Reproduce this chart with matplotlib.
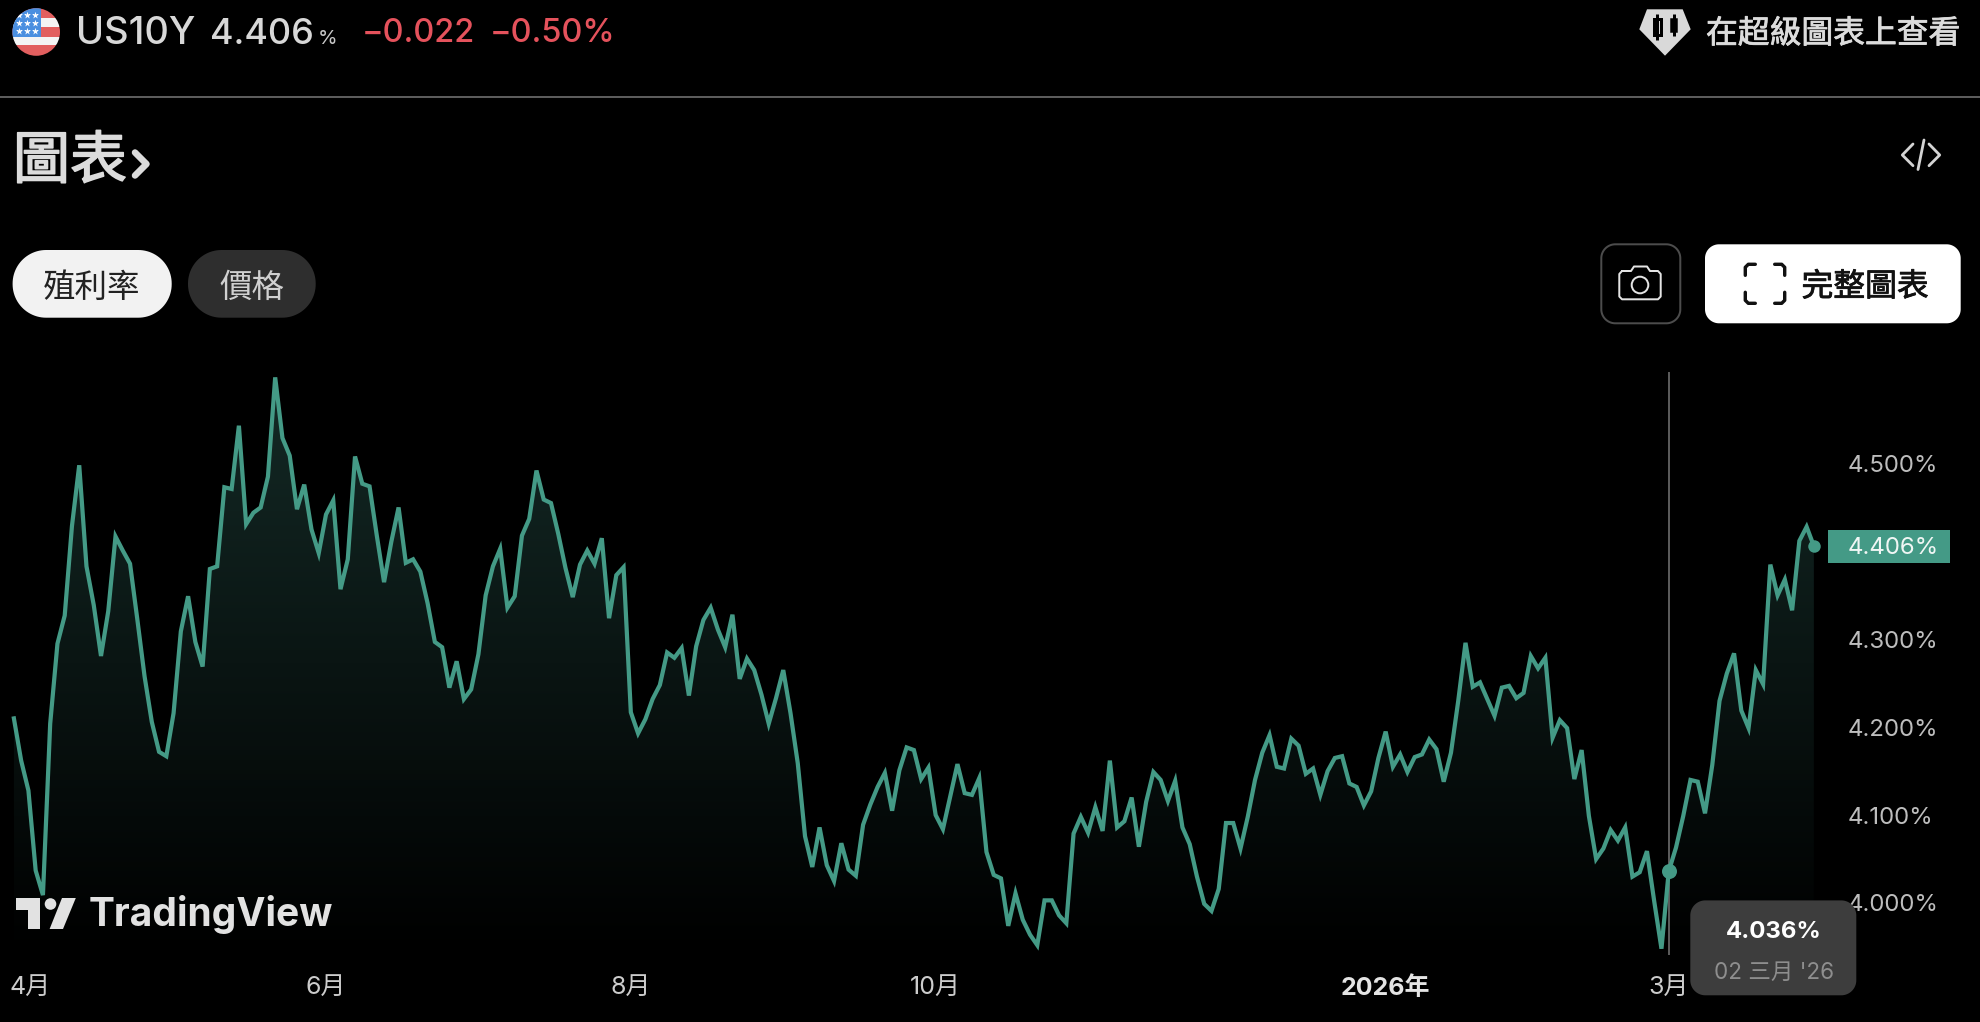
import numpy as np
import matplotlib
matplotlib.use("Agg")
import matplotlib.pyplot as plt
import matplotlib.patheffects as pe
from matplotlib.patches import Circle, Polygon, Rectangle, PathPatch
from matplotlib.path import Path
from matplotlib.colors import LinearSegmentedColormap

CJK = ["Noto Sans CJK TC", "DejaVu Sans"]
MIX = ["Inter", "Noto Sans CJK TC", "DejaVu Sans"]

yield_pct = [
 4.210,4.162,4.128,4.037,4.009,4.204,4.295,4.327,4.429,4.498,
 4.383,4.339,4.281,4.332,4.417,4.401,4.386,4.323,4.258,4.206,
 4.172,4.167,4.216,4.309,4.349,4.297,4.269,4.380,4.383,4.473,
 4.471,4.543,4.431,4.444,4.450,4.485,4.598,4.529,4.509,4.448,
 4.476,4.425,4.398,4.442,4.458,4.357,4.391,4.508,4.477,4.474,
 4.418,4.365,4.411,4.450,4.387,4.391,4.377,4.341,4.297,4.291,
 4.245,4.275,4.232,4.243,4.283,4.350,4.383,4.403,4.336,4.349,
 4.418,4.437,4.492,4.459,4.455,4.420,4.381,4.348,4.385,4.401,
 4.386,4.415,4.324,4.373,4.382,4.217,4.193,4.209,4.232,4.248,
 4.285,4.279,4.290,4.236,4.292,4.322,4.336,4.311,4.291,4.328,
 4.255,4.278,4.265,4.237,4.204,4.233,4.265,4.216,4.159,4.076,
 4.041,4.086,4.043,4.025,4.068,4.038,4.031,4.089,4.112,4.132,
 4.148,4.105,4.151,4.177,4.174,4.141,4.154,4.100,4.084,4.121,
 4.158,4.125,4.123,4.142,4.058,4.032,4.028,3.974,4.011,3.981,
 3.964,3.952,4.003,4.003,3.986,3.977,4.079,4.098,4.080,4.109,
 4.082,4.162,4.086,4.093,4.120,4.064,4.115,4.149,4.140,4.116,
 4.139,4.086,4.067,4.030,3.999,3.991,4.016,4.091,4.091,4.062,
 4.098,4.140,4.171,4.191,4.155,4.153,4.187,4.179,
 4.147,4.153,4.123,4.150,4.165,4.167,4.136,4.132,4.111,4.127,
 4.165,4.195,4.155,4.169,4.149,4.166,4.169,4.186,4.175,4.138,
 4.171,4.230,4.296,4.246,4.251,4.232,4.213,4.245,4.247,4.233,
 4.239,4.281,4.267,4.279,4.188,4.208,4.199,4.141,4.174,4.099,
 4.050,4.062,4.083,4.071,4.086,4.030,4.035,4.059,4.002,3.948,
 4.036,4.063,4.099,4.140,4.138,4.102,4.157,4.230,4.261,4.284,
 4.219,4.199,4.265,4.249,4.385,4.350,4.368,4.333,4.412,4.428,
 4.406,
]
xtick_pos = [2.3, 43, 85, 127, 189, 228]
xtick_labels = ["4月", "6月", "8月", "10月", "2026年", "3月"]
ytick_vals = [4.0, 4.1, 4.2, 4.3, 4.4, 4.5]
ytick_labels = ["4.000%", "4.100%", "4.200%", "4.300%", "", "4.500%"]
cursor_index = 228
cursor_value_label = "4.036%"
cursor_date_label = "02 三月 '26"

W, H = 1980, 1022
LINE = "#449a86"
PT = 0.72

fig = plt.figure(figsize=(W / 100, H / 100), dpi=100, facecolor="black")

def axrect(x0, y0, x1, y1):
    return [x0 / W, 1 - y1 / H, (x1 - x0) / W, (y1 - y0) / H]

X0 = 13.9
DX = 7.258
PER_UNIT = 879.0
Y500 = 463.5
ax = fig.add_axes(axrect(0, 372, 1828, 955), facecolor="black", zorder=1)
xmin, xmax = -X0 / DX, (1828 - X0) / DX
ytop = 4.5 + (Y500 - 372) / PER_UNIT
ybot = 4.5 + (Y500 - 955) / PER_UNIT
x = np.arange(len(yield_pct))
y = np.array(yield_pct)

cmap = LinearSegmentedColormap.from_list("g", ["#142a26", "#000000"])
im = ax.imshow(np.linspace(0, 1, 256).reshape(-1, 1), cmap=cmap, aspect="auto",
               extent=[xmin, xmax, ybot, ytop], origin="upper", zorder=1)
poly = np.column_stack([np.r_[x, x[-1], x[0]], np.r_[y, ybot, ybot]])
clip = PathPatch(Path(np.vstack([poly, poly[0]]), closed=True), transform=ax.transData,
                 fc="none", ec="none")
ax.add_patch(clip)
im.set_clip_path(clip)

ax.plot([cursor_index] * 2, [ybot, ytop], color="#5a5a5a", lw=2 * PT, zorder=2)
ax.plot(x, y, color=LINE, lw=4.2 * PT, solid_joinstyle="miter", zorder=3)
ax.plot([cursor_index], [y[cursor_index]], "o", color=LINE, ms=15 * PT, mew=0, zorder=4)
ax.plot([x[-1]], [y[-1]], "o", color=LINE, ms=12.5 * PT, mew=0, zorder=4)
ax.set_xlim(xmin, xmax)
ax.set_ylim(ybot, ytop)

for s in ax.spines.values():
    s.set_visible(False)
ax.yaxis.tick_right()
ax.set_yticks(ytick_vals)
ax.set_yticklabels(ytick_labels, family=MIX, fontsize=24 * PT, color="#bdbdbd")
ax.tick_params(axis="y", length=0, pad=20 * PT)
ax.set_xticks(xtick_pos)
ax.set_xticklabels(xtick_labels, family=MIX, fontsize=25 * PT, color="#cccccc")
ax.tick_params(axis="x", length=0, pad=21 * PT)
for lab in ax.get_xticklabels():
    if "年" in lab.get_text():
        lab.set_fontweight("bold")
        lab.set_color("#e4e4e4")

ax.add_patch(Rectangle((1.0, y[-1] - 16.5 / PER_UNIT), 122 / 1828, 33 / PER_UNIT,
                       transform=ax.get_yaxis_transform(), clip_on=False,
                       fc=LINE, ec="none", zorder=5))
ax.text(1 + 20 / 1828, y[-1] - 1.5 / PER_UNIT, f"{y[-1]:.3f}%", transform=ax.get_yaxis_transform(),
        ha="left", va="center", family=MIX, fontsize=24 * PT, color="#f0f6f4", zorder=6, clip_on=False)

ov = fig.add_axes([0, 0, 1, 1], zorder=5)
ov.set_xlim(0, W)
ov.set_ylim(H, 0)
ov.axis("off")
ov.patch.set_alpha(0)

def txt(px, py, s, size, color, ha="center", va="center", fam=MIX, weight="normal", stroke=0):
    t = ov.text(px, py, s, fontsize=size * PT, color=color, ha=ha, va=va, family=fam, fontweight=weight)
    if stroke:
        t.set_path_effects([pe.withStroke(linewidth=stroke * PT, foreground=color)])
    return t

def rbox(x0, y0, x1, y1, r, fc, ec="none", lw=0):
    t = np.linspace(0, np.pi / 2, 24)
    pts = []
    for cx, cy, a0 in [(x1 - r, y0 + r, -np.pi / 2), (x1 - r, y1 - r, 0),
                       (x0 + r, y1 - r, np.pi / 2), (x0 + r, y0 + r, np.pi)]:
        pts.append(np.column_stack([cx + r * np.cos(a0 + t), cy + r * np.sin(a0 + t)]))
    p = Polygon(np.vstack(pts), closed=True, fc=fc, ec=ec, lw=lw * PT)
    ov.add_patch(p)
    return p

def pl(xs, ys, color, lw, cap="round"):
    ov.plot(xs, ys, color=color, lw=lw * PT, solid_capstyle=cap, solid_joinstyle="round")

# flag
circ = Circle((36.2, 32), 23.8, transform=ov.transData, fc="none", ec="none")
ov.add_patch(circ)
for (y0, y1, c) in [(8, 18.3, "#e25f5f"), (18.3, 26.7, "#f4f4f4"), (26.7, 37, "#e25f5f"),
                    (37, 45, "#f4f4f4"), (45, 56, "#e25f5f")]:
    r = Rectangle((12, y0), 48, y1 - y0, fc=c, ec="none")
    ov.add_patch(r)
    r.set_clip_path(circ)
r = Rectangle((12, 8), 29.2, 29.3, fc="#4a8fe0", ec="none")
ov.add_patch(r)
r.set_clip_path(circ)
sx, sy = np.meshgrid([18.9, 26.9, 34.9], [15, 22.7, 30.7])
sc = ov.scatter(sx.ravel(), sy.ravel(), marker="*", s=28, c="white", linewidths=0)
sc.set_clip_path(circ)

# header text
txt(76, 34, "US10Y", 38, "#d8d8d8", ha="left", weight="medium")
txt(210.5, 34, "4.406", 36, "#d8d8d8", ha="left", weight="medium")
txt(318, 38.5, "%", 20, "#c8c8c8", ha="left")
txt(362, 34, "\u22120.022", 32.5, "#e5525c", ha="left", weight="medium")
txt(489.5, 34, "\u22120.50%", 32.5, "#e5525c", ha="left", weight="medium")
ov.plot([0, W], [96.7, 96.7], color="#5c5c5c", lw=2 * PT)

# super chart icon and link
ov.add_patch(Polygon([(1647, 9.3), (1682.7, 9.3), (1690.7, 29.3), (1665, 55.7), (1639.3, 29.3)],
                     fc="#d9d9d9", ec="none"))
pl([1657.3, 1657.3], [14, 40], "black", 3, cap="butt")
ov.add_patch(Rectangle((1654, 19), 6.6, 16, fc="#d9d9d9", ec="black", lw=3 * PT))
pl([1674, 1674], [14, 36], "black", 3, cap="butt")
ov.add_patch(Rectangle((1670.6, 19), 6.8, 13, fc="black", ec="black", lw=1.5 * PT))
txt(1833, 34, "在超級圖表上查看", 31.8, "#dcdcdc", fam=CJK, stroke=0.8)

# title
txt(13, 162, "圖表", 57, "#dcdcdc", ha="left", fam=CJK, stroke=1.6)
pl([135, 146.5, 135], [152.5, 164, 175.5], "#dcdcdc", 6.5)

# embed icon
pl([1913, 1902.3, 1913], [144, 155, 165.7], "#d4d4d4", 2.8)
pl([1924, 1918], [140, 169.5], "#d4d4d4", 2.8)
pl([1929, 1939.7, 1929], [144, 155, 165.7], "#d4d4d4", 2.8)

# pills
rbox(12.6, 250, 171.7, 317.7, 33.5, "#f2f2f2")
txt(92, 288, "殖利率", 32.5, "#222222", fam=CJK)
rbox(188, 250, 315.7, 317.7, 33.5, "#2e2e2e")
txt(252, 288, "價格", 32.5, "#d0d0d0", fam=CJK)

# camera button
rbox(1601.3, 244.3, 1680.3, 323.3, 14, "black", ec="#4c4c4c", lw=2)
pl([1622, 1631, 1634, 1647, 1650, 1658, 1660.7, 1660.7, 1658, 1622, 1619.3, 1619.3, 1622],
   [271, 271, 266.5, 266.5, 271, 271, 274, 296.5, 299.3, 299.3, 296.5, 274, 271], "#e4e4e4", 2)
ov.add_patch(Circle((1640, 285), 8.3, fc="none", ec="#e4e4e4", lw=2 * PT))

# full chart button
rbox(1705, 244.3, 1960.7, 323.3, 14, "white")
bx0, bx1, by0, by1 = 1745.3, 1784.7, 264.3, 303.3
for xs, ys in [([bx0 + 10, bx0 + 3, bx0, bx0], [by0, by0, by0 + 3, by0 + 11]),
               ([bx1 - 10, bx1 - 3, bx1, bx1], [by0, by0, by0 + 3, by0 + 11]),
               ([bx0 + 10, bx0 + 3, bx0, bx0], [by1, by1, by1 - 3, by1 - 11]),
               ([bx1 - 10, bx1 - 3, bx1, bx1], [by1, by1, by1 - 3, by1 - 11])]:
    pl(xs, ys, "#111111", 3.4)
txt(1865, 287, "完整圖表", 31.8, "#111111", fam=CJK, stroke=0.8)

# TradingView logo
LOGO = "#e2e2e2"
ov.add_patch(Polygon([(16, 898), (40, 898), (40, 929), (27.8, 929), (27.8, 910), (16, 910)], fc=LOGO, ec="none"))
ov.add_patch(Circle((50.5, 904), 5.8, fc=LOGO, ec="none"))
ov.add_patch(Polygon([(62, 898), (75.8, 898), (63, 929), (49.6, 929)], fc=LOGO, ec="none"))
txt(89, 915, "TradingView", 39, LOGO, ha="left", fam=["Inter", "DejaVu Sans"], weight="bold")

# tooltip
rbox(1690.3, 900.4, 1856.3, 995.3, 15, "#3d3d3d")
txt(1773.3, 932, cursor_value_label, 24, "#ffffff", weight="bold")
txt(1774, 973, cursor_date_label, 22.5, "#8e8e8e")

fig.savefig("out.png", dpi=100, facecolor="black")
